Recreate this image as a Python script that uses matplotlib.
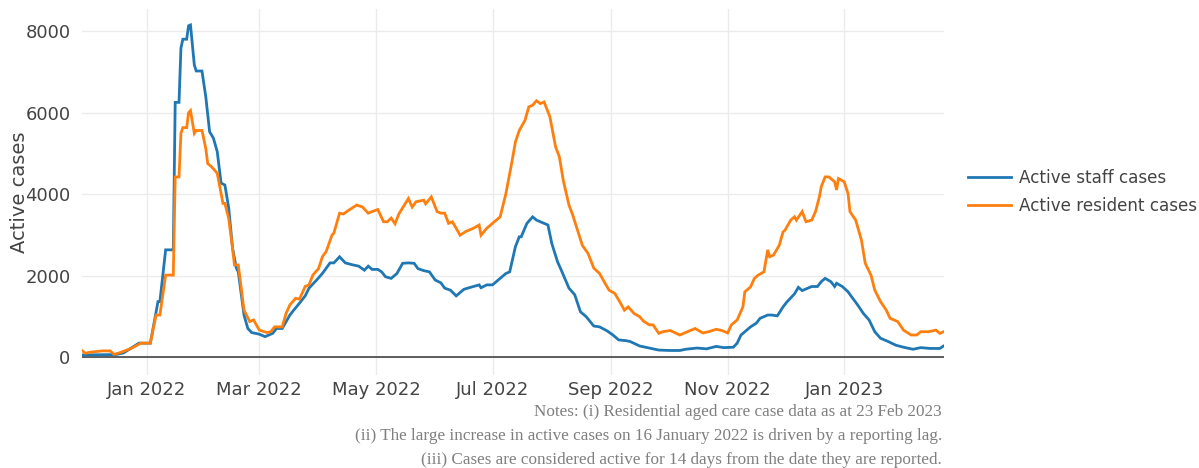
import matplotlib
matplotlib.use('Agg')
import matplotlib.pyplot as plt
import matplotlib.dates as mdates
import pandas as pd

staff_dates = [
    '2021-11-28', '2021-12-16', '2021-12-20', '2021-12-28', '2022-01-03', '2022-01-07',
    '2022-01-08', '2022-01-11', '2022-01-15', '2022-01-16', '2022-01-18', '2022-01-19',
    '2022-01-20', '2022-01-22', '2022-01-23', '2022-01-24', '2022-01-26', '2022-01-27',
    '2022-01-30', '2022-02-01', '2022-02-03', '2022-02-05', '2022-02-07', '2022-02-09',
    '2022-02-11', '2022-02-13', '2022-02-15', '2022-02-17', '2022-02-18', '2022-02-21',
    '2022-02-23', '2022-02-25', '2022-03-01', '2022-03-04', '2022-03-08', '2022-03-10',
    '2022-03-13', '2022-03-17', '2022-03-19', '2022-03-22', '2022-03-25', '2022-03-27',
    '2022-03-31', '2022-04-03', '2022-04-07', '2022-04-09', '2022-04-12', '2022-04-15',
    '2022-04-19', '2022-04-22', '2022-04-25', '2022-04-27', '2022-04-29', '2022-05-02',
    '2022-05-04', '2022-05-06', '2022-05-09', '2022-05-12', '2022-05-15', '2022-05-18',
    '2022-05-21', '2022-05-23', '2022-05-26', '2022-05-29', '2022-06-01', '2022-06-04',
    '2022-06-06', '2022-06-09', '2022-06-12', '2022-06-16', '2022-06-18', '2022-06-21',
    '2022-06-24', '2022-06-25', '2022-06-28', '2022-07-01', '2022-07-05', '2022-07-08',
    '2022-07-10', '2022-07-13', '2022-07-15', '2022-07-16', '2022-07-19', '2022-07-22',
    '2022-07-24', '2022-07-28', '2022-07-30', '2022-08-01', '2022-08-04', '2022-08-06',
    '2022-08-10', '2022-08-13', '2022-08-16', '2022-08-19', '2022-08-23', '2022-08-26',
    '2022-08-30', '2022-09-02', '2022-09-05', '2022-09-09', '2022-09-11', '2022-09-16',
    '2022-09-21', '2022-09-26', '2022-10-02', '2022-10-07', '2022-10-10', '2022-10-16',
    '2022-10-21', '2022-10-26', '2022-10-30', '2022-11-04', '2022-11-06', '2022-11-08',
    '2022-11-10', '2022-11-13', '2022-11-16', '2022-11-18', '2022-11-22', '2022-11-24',
    '2022-11-27', '2022-11-30', '2022-12-02', '2022-12-06', '2022-12-08', '2022-12-10',
    '2022-12-13', '2022-12-15', '2022-12-18', '2022-12-20', '2022-12-22', '2022-12-25',
    '2022-12-27', '2022-12-28', '2022-12-31', '2023-01-03', '2023-01-05', '2023-01-08',
    '2023-01-11', '2023-01-14', '2023-01-17', '2023-01-20', '2023-01-24', '2023-01-28',
    '2023-02-01', '2023-02-06', '2023-02-10', '2023-02-15', '2023-02-20', '2023-02-22',
]
staff_cases = [
    50, 60, 100, 340, 340, 1360,
    1360, 2630, 2630, 6250, 6250, 7580,
    7800, 7800, 8130, 8150, 7170, 7020,
    7020, 6390, 5530, 5370, 5040, 4270,
    4220, 3660, 2670, 2180, 2090, 1030,
    700, 600, 560, 500, 580, 700,
    700, 1030, 1150, 1320, 1500, 1690,
    1890, 2050, 2310, 2310, 2460, 2310,
    2260, 2230, 2130, 2230, 2150, 2150,
    2090, 1970, 1930, 2050, 2300, 2310,
    2300, 2170, 2120, 2090, 1890, 1820,
    1690, 1640, 1500, 1660, 1690, 1730,
    1770, 1700, 1770, 1770, 1930, 2050,
    2090, 2710, 2950, 2950, 3280, 3440,
    3360, 3280, 3240, 2790, 2340, 2130,
    1690, 1530, 1110, 990, 760, 740,
    640, 540, 420, 400, 380, 270,
    220, 170, 160, 160, 190, 220,
    200, 260, 230, 240, 340, 540,
    620, 740, 830, 950, 1030, 1030,
    1010, 1230, 1350, 1550, 1710, 1630,
    1690, 1730, 1730, 1850, 1930, 1850,
    1730, 1810, 1730, 1600, 1470, 1280,
    1070, 910, 620, 460, 380, 290,
    240, 190, 230, 210, 210, 270,
]

resident_dates = [
    '2021-11-28', '2021-11-30', '2021-12-02', '2021-12-09', '2021-12-13', '2021-12-15',
    '2021-12-18', '2021-12-24', '2021-12-29', '2022-01-03', '2022-01-06', '2022-01-08',
    '2022-01-11', '2022-01-15', '2022-01-16', '2022-01-18', '2022-01-19', '2022-01-20',
    '2022-01-22', '2022-01-23', '2022-01-24', '2022-01-26', '2022-01-27', '2022-01-30',
    '2022-02-01', '2022-02-02', '2022-02-04', '2022-02-07', '2022-02-10', '2022-02-11',
    '2022-02-13', '2022-02-15', '2022-02-16', '2022-02-18', '2022-02-21', '2022-02-24',
    '2022-02-26', '2022-03-01', '2022-03-05', '2022-03-07', '2022-03-09', '2022-03-13',
    '2022-03-15', '2022-03-17', '2022-03-20', '2022-03-22', '2022-03-25', '2022-03-27',
    '2022-03-29', '2022-04-01', '2022-04-03', '2022-04-05', '2022-04-08', '2022-04-09',
    '2022-04-12', '2022-04-14', '2022-04-17', '2022-04-21', '2022-04-24', '2022-04-27',
    '2022-04-29', '2022-05-02', '2022-05-05', '2022-05-07', '2022-05-09', '2022-05-11',
    '2022-05-13', '2022-05-18', '2022-05-20', '2022-05-22', '2022-05-26', '2022-05-27',
    '2022-05-30', '2022-06-02', '2022-06-04', '2022-06-06', '2022-06-08', '2022-06-10',
    '2022-06-12', '2022-06-14', '2022-06-17', '2022-06-21', '2022-06-24', '2022-06-25',
    '2022-06-28', '2022-07-01', '2022-07-05', '2022-07-08', '2022-07-11', '2022-07-13',
    '2022-07-15', '2022-07-18', '2022-07-20', '2022-07-22', '2022-07-24', '2022-07-26',
    '2022-07-28', '2022-07-31', '2022-08-03', '2022-08-05', '2022-08-07', '2022-08-10',
    '2022-08-12', '2022-08-15', '2022-08-17', '2022-08-20', '2022-08-23', '2022-08-26',
    '2022-08-29', '2022-08-31', '2022-09-03', '2022-09-06', '2022-09-08', '2022-09-10',
    '2022-09-13', '2022-09-16', '2022-09-18', '2022-09-21', '2022-09-23', '2022-09-26',
    '2022-09-28', '2022-10-02', '2022-10-07', '2022-10-11', '2022-10-15', '2022-10-19',
    '2022-10-22', '2022-10-26', '2022-10-29', '2022-11-01', '2022-11-03', '2022-11-06',
    '2022-11-09', '2022-11-10', '2022-11-13', '2022-11-15', '2022-11-17', '2022-11-20',
    '2022-11-22', '2022-11-23', '2022-11-25', '2022-11-28', '2022-11-30', '2022-12-01',
    '2022-12-04', '2022-12-06', '2022-12-07', '2022-12-10', '2022-12-12', '2022-12-15',
    '2022-12-17', '2022-12-19', '2022-12-20', '2022-12-22', '2022-12-24', '2022-12-27',
    '2022-12-28', '2022-12-29', '2023-01-01', '2023-01-03', '2023-01-04', '2023-01-07',
    '2023-01-10', '2023-01-12', '2023-01-15', '2023-01-17', '2023-01-20', '2023-01-23',
    '2023-01-25', '2023-01-29', '2023-02-01', '2023-02-05', '2023-02-08', '2023-02-10',
    '2023-02-14', '2023-02-18', '2023-02-20', '2023-02-22',
]
resident_cases = [
    170, 90, 115, 150, 150, 65,
    105, 210, 340, 340, 1030, 1030,
    2010, 2010, 4420, 4420, 5490, 5630,
    5630, 6000, 6050, 5490, 5560, 5560,
    5120, 4750, 4670, 4510, 3770, 3770,
    3400, 2670, 2260, 2260, 1150, 870,
    910, 660, 600, 620, 740, 740,
    1070, 1280, 1440, 1420, 1730, 1770,
    2010, 2170, 2460, 2590, 2990, 3040,
    3530, 3510, 3610, 3730, 3680, 3530,
    3570, 3620, 3320, 3320, 3410, 3270,
    3510, 3890, 3680, 3810, 3850, 3760,
    3930, 3570, 3530, 3530, 3280, 3320,
    3160, 2990, 3080, 3160, 3240, 2990,
    3160, 3280, 3440, 4010, 4750, 5280,
    5560, 5810, 6140, 6180, 6290, 6220,
    6260, 5900, 5160, 4910, 4340, 3730,
    3480, 3040, 2740, 2540, 2180, 2050,
    1800, 1640, 1560, 1320, 1150, 1230,
    1070, 990, 880, 790, 790, 580,
    620, 650, 540, 620, 700, 590,
    620, 680, 650, 590, 790, 910,
    1230, 1600, 1720, 1930, 2010, 2090,
    2630, 2460, 2500, 2740, 3070, 3110,
    3360, 3440, 3360, 3570, 3320, 3360,
    3570, 3930, 4180, 4420, 4420, 4300,
    4100, 4380, 4300, 4010, 3570, 3360,
    2870, 2300, 2010, 1640, 1360, 1150,
    950, 870, 660, 540, 540, 620,
    620, 660, 580, 620,
]

notes = [
    'Notes: (i) Residential aged care case data as at 23 Feb 2023',
    '(ii) The large increase in active cases on 16 January 2022 is driven by a reporting lag.',
    '(iii) Cases are considered active for 14 days from the date they are reported.',
]

fig = plt.figure(figsize=(11.99, 4.68), dpi=100)
ax = fig.add_axes([0.068, 0.198, 0.719, 0.7835])

ax.plot(pd.to_datetime(staff_dates), staff_cases, color='#1f77b4', lw=2.0,
        label='Active staff cases', solid_joinstyle='miter')
ax.plot(pd.to_datetime(resident_dates), resident_cases, color='#ff7f0e', lw=2.0,
        label='Active resident cases', solid_joinstyle='miter')

ax.set_xlim(pd.Timestamp('2021-11-28'), pd.Timestamp('2023-02-22'))
ax.set_ylim(-450, 8550)
ax.set_yticks([0, 2000, 4000, 6000, 8000])
ax.xaxis.set_major_locator(mdates.MonthLocator(bymonth=[1, 3, 5, 7, 9, 11]))
ax.xaxis.set_major_formatter(mdates.DateFormatter('%b %Y'))

ax.grid(True, color='#ebebeb', lw=1)
ax.set_axisbelow(True)
ax.axhline(0, color='#444444', lw=1.2, zorder=1.5)
for s in ax.spines.values():
    s.set_visible(False)
ax.tick_params(length=0, labelsize=13, colors='#444444')
ax.tick_params(axis='x', pad=4)
ax.tick_params(axis='y', pad=8)
ax.set_ylabel('Active cases', fontsize=14, color='#444444', labelpad=-3)

ax.legend(loc='center left', bbox_to_anchor=(1.0287, 0.5), frameon=False,
          borderpad=0, borderaxespad=0, fontsize=12.1, labelcolor='#444444',
          handlelength=2.55, handletextpad=0.48, labelspacing=0.6)

for i, t in enumerate(notes):
    fig.text(942 / 1199, 1 - (412 + i * 24) / 468, t, ha='right', va='center',
             family='Liberation Serif', fontsize=12.3, color='#7f7f7f')

fig.savefig('out.png', dpi=100)
